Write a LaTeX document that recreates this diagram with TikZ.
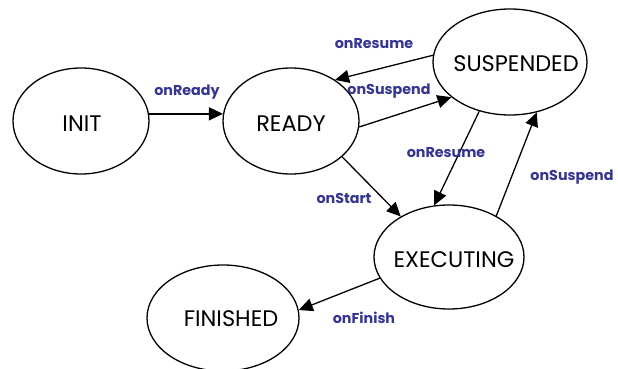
\documentclass[tikz,border=0pt]{standalone}
\usepackage{fontspec}
\setmainfont{Poppins}
\usetikzlibrary{shapes.geometric,arrows.meta}
\definecolor{labelblue}{RGB}{51,51,153}
\tikzset{
  state/.style={draw=black, line width=1.3pt, ellipse, inner sep=0pt},
  stxt/.style={font=\fontsize{22.5}{26}\selectfont, inner sep=0pt},
  trans/.style={draw=black, line width=1.3pt, -{Triangle[length=14pt,width=13pt]}},
  lbl/.style={text=labelblue, font=\fontsize{14.3}{17}\selectfont\bfseries, inner sep=0pt}
}
\begin{document}
\begin{tikzpicture}[x=1pt,y=-1pt]
\path[use as bounding box] (0,0) rectangle (618,369);
\node[state, minimum width=136pt, minimum height=106pt] (init) at (81,121) {};
\node[state, minimum width=136pt, minimum height=106pt] (ready) at (291,121) {};
\node[state, minimum width=154pt, minimum height=106pt] (susp) at (510,62) {};
\node[state, minimum width=150pt, minimum height=104pt] (exec) at (449,257) {};
\node[state, minimum width=152pt, minimum height=106pt] (fin) at (223,318) {};
\node[stxt] (tinit) at (82,124) {INIT};
\node[stxt] (tready) at (291,124) {READY};
\node[stxt] (tsusp) at (516,64) {SUSPENDED};
\node[stxt] (texec) at (454,260) {EXECUTING};
\node[stxt] (tfin) at (231,319) {FINISHED};
\draw[trans] (init.6) -- (ready.174);
\draw[trans] (susp.175) -- (ready.43);
\draw[trans] (ready.-5) -- (susp.211);
\draw[trans] (ready.-35) -- (exec.140);
\draw[trans] (susp.238) -- (exec.106);
\draw[trans] (exec.41) -- (susp.-62);
\draw[trans] (exec.197.5) -- (fin.6);
\node[lbl] (l1) at (187,92) {onReady};
\node[lbl] (l2) at (374,44) {onResume};
\node[lbl] (l3) at (389,91) {onSuspend};
\node[lbl] (l4) at (446,153) {onResume};
\node[lbl] (l5) at (572,177) {onSuspend};
\node[lbl] (l6) at (344,198) {onStart};
\node[lbl] (l7) at (364,318) {onFinish};
\end{tikzpicture}
\end{document}
